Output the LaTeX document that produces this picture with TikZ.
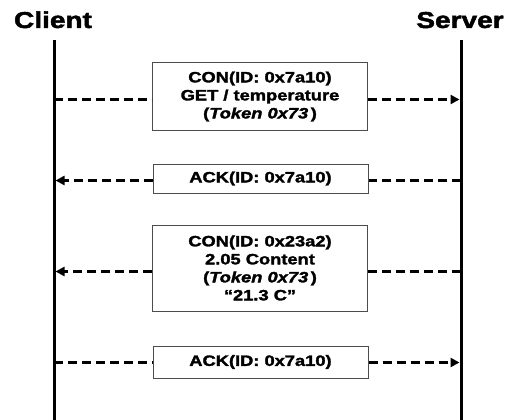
\documentclass[tikz,border=0pt]{standalone}
\usepackage{fontspec}
\setmainfont{Liberation Sans}[FakeStretch=1.22, BoldFeatures={FakeBold=2}, BoldItalicFeatures={FakeBold=2}]
\usetikzlibrary{arrows.meta}
\begin{document}
\begin{tikzpicture}[x=1pt,y=-1pt,
  msg/.style={draw=black!70, line width=1pt, minimum width=215pt, align=center, inner sep=0pt, font=\bfseries\fontsize{15}{18}\selectfont},
  life/.style={line width=3pt},
  dsh/.style={line width=2.8pt, dash pattern=on 9pt off 5pt},
  tip/.style={-{Triangle[length=9pt,width=9pt]}},
  title/.style={font=\bfseries\fontsize{23}{26}\selectfont, inner sep=0pt}]
\useasboundingbox (0,0) rectangle (519,420);
% titles
\node[title, anchor=base] (cl) at (53,28) {Client};
\node[title, anchor=base] (sv) at (460,28) {Server};
% lifelines
\coordinate (ctop) at (54,40); \coordinate (cbot) at (54,421);
\coordinate (stop) at (461,40); \coordinate (sbot) at (461,421);
\draw[life] (ctop) -- (cbot);
\draw[life] (stop) -- (sbot);
% messages
\node[msg, minimum height=67pt] (m1) at (260,96.5) {CON(ID: 0x7a10)\\GET / temperature\\(\textit{Token 0x73}\,)};
\node[msg, minimum height=29pt] (m2) at (260.5,178.5) {ACK(ID: 0x7a10)};
\node[msg, minimum height=86pt] (m3) at (260,268) {CON(ID: 0x23a2)\\2.05 Content\\(\textit{Token 0x73}\,)\\“21.3 C”};
\node[msg, minimum height=32pt] (m4) at (260.5,362) {ACK(ID: 0x7a10)};
% arrow end points on lifelines
\coordinate (c1) at (54,99.5);   \coordinate (s1) at (459.5,99.5);
\coordinate (c2) at (55.5,180.5); \coordinate (s2) at (461,180.5);
\coordinate (c3) at (55.5,271.5); \coordinate (s3) at (461,271.5);
\coordinate (c4) at (54,362.5);  \coordinate (s4) at (459.5,362.5);
% connectors
\draw[dsh] (c1) -- (c1 -| m1.west);
\draw[dsh,tip] (s1 -| m1.east) -- (s1);
\draw[dsh] (s2) -- (s2 -| m2.east);
\draw[dsh,tip] (c2 -| m2.west) -- (c2);
\draw[dsh] (s3) -- (s3 -| m3.east);
\draw[dsh,tip] (c3 -| m3.west) -- (c3);
\draw[dsh] (c4) -- (c4 -| m4.west);
\draw[dsh,tip] (s4 -| m4.east) -- (s4);
\end{tikzpicture}
\end{document}
